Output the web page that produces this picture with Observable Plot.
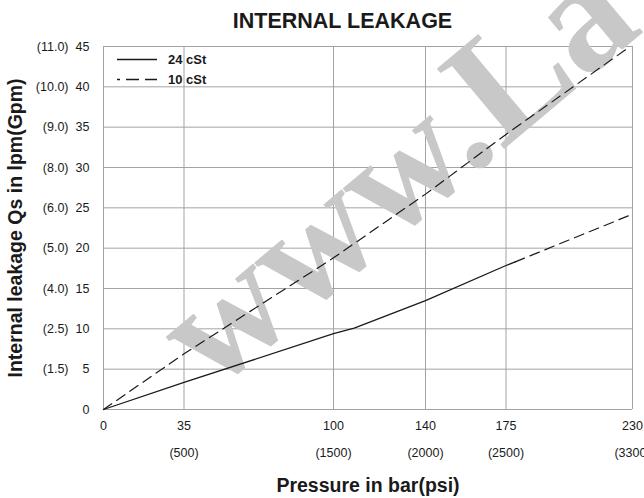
<!DOCTYPE html>
<html><head><meta charset="utf-8">
<script src="https://cdn.jsdelivr.net/npm/d3@7"></script>
<script src="https://cdn.jsdelivr.net/npm/@observablehq/plot@0.6"></script>
<style>body{margin:0;background:#fff}</style>
</head><body><div id="chart"></div>
<script>
// ---- data ----
const xTicks = [0, 35, 100, 140, 175, 230];
const xPsiLabels = ["", "(500)", "(1500)", "(2000)", "(2500)", "(3300)"];
const yTicks = [0, 5, 10, 15, 20, 25, 30, 35, 40, 45];
const yGpmLabels = ["", "(1.5)", "(2.5)", "(4.0)", "(5.0)", "(6.0)", "(8.0)", "(9.0)", "(10.0)", "(11.0)"];
const seriesNames = ["24 cSt", "10 cSt"];
// 10 cSt (dashed)
const pressure10 = [0, 35, 100, 140, 175, 227];
const leak10 = [0, 6.9, 18.8, 26.7, 34.1, 44.6];
// 24 cSt (solid part)
const pressure24 = [0, 35, 100, 109, 140, 175, 179];
const leak24 = [0, 3.35, 9.4, 10.1, 13.5, 17.85, 18.3];
// 24 cSt (dashed extension)
const pressure24ext = [179, 229];
const leak24ext = [18.3, 24.1];
const titleText = "INTERNAL LEAKAGE";
const xTitle = "Pressure in bar(psi)";
const yTitle = "Internal leakage Qs in lpm(Gpm)";
const watermark = "www.La";

const toRows = (xs, ys) => xs.map((p, i) => ({p, q: ys[i]}));
const d10 = toRows(pressure10, leak10);
const d24 = toRows(pressure24, leak24);
const d24ext = toRows(pressure24ext, leak24ext);
const yLab = new Map(yTicks.map((t, i) => [t, yGpmLabels[i]]));
const xLab = new Map(xTicks.map((t, i) => [t, xPsiLabels[i]]));

const font = "'Liberation Sans', Arial, Helvetica, sans-serif";
const grid = "#a3a3a3";
const ink = "#1a1a1a";

const plot = Plot.plot({
  width: 644, height: 498,
  marginLeft: 103, marginRight: 12, marginTop: 46, marginBottom: 89,
  style: {fontFamily: font, fontSize: "12.5px", color: ink, background: "#fff", overflow: "visible"},
  x: {domain: [0, 230], label: null},
  y: {domain: [0, 45], label: null},
  marks: [
    Plot.ruleY(yTicks, {stroke: grid, strokeWidth: 1}),
    Plot.ruleX(xTicks, {stroke: grid, strokeWidth: 1}),
    Plot.text([watermark], {frameAnchor: "bottom-left", dx: 109, dy: -16, rotate: -40,
      fontSize: 160, fontFamily: "'Liberation Serif', 'Times New Roman', serif", fontWeight: "bold",
      fill: "#c8c8c8", textAnchor: "start", lineAnchor: "bottom"}),
    Plot.line(d10, {x: "p", y: "q", stroke: ink, strokeWidth: 1.2, strokeDasharray: "10,6"}),
    Plot.line(d24, {x: "p", y: "q", stroke: ink, strokeWidth: 1.3}),
    Plot.line(d24ext, {x: "p", y: "q", stroke: ink, strokeWidth: 1.2, strokeDasharray: "10,6"}),
    Plot.axisY(yTicks, {tickSize: 0, tickPadding: 14, label: null}),
    Plot.axisY(yTicks, {tickSize: 0, tickPadding: 35, label: null, tickFormat: d => yLab.get(d)}),
    Plot.axisX(xTicks, {tickSize: 0, tickPadding: 12, label: null}),
    Plot.axisX(xTicks, {tickSize: 0, tickPadding: 39, label: null, tickFormat: d => xLab.get(d)}),
    Plot.text([titleText], {frameAnchor: "top", dx: -25.5, dy: -19, lineAnchor: "bottom", textAnchor: "middle", fontSize: 21.5, fontWeight: "bold"}),
    Plot.text([xTitle], {frameAnchor: "bottom", dy: 82, lineAnchor: "bottom", textAnchor: "middle", fontSize: 19.5, fontWeight: "bold"}),
    Plot.text([yTitle], {frameAnchor: "left", dx: -81.5, rotate: -90, lineAnchor: "bottom", textAnchor: "middle", fontSize: 19.5, fontWeight: "bold"})
  ]
});

// legend inside the plot frame, top-left
const svg = d3.select(plot);
const lg = svg.append("g").attr("transform", "translate(117,59.5)");
const dashes = [null, "3,6,13,6,13"];
seriesNames.forEach((name, i) => {
  const g = lg.append("g").attr("transform", `translate(0,${i * 20})`);
  g.append("line").attr("x1", 0).attr("x2", 40).attr("y1", 0).attr("y2", 0)
    .attr("stroke", ink).attr("stroke-width", 1.3)
    .attr("stroke-dasharray", dashes[i]);
  g.append("text").attr("x", 51).attr("y", 4.5).attr("fill", ink)
    .attr("text-anchor", "start")
    .attr("font-size", 13).attr("font-weight", "bold").attr("font-family", font)
    .text(name);
});

document.getElementById("chart").appendChild(plot);
</script>
</body></html>
